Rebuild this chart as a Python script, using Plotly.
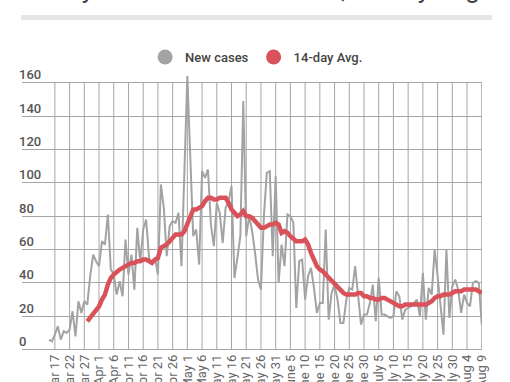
import pandas as pd
import plotly.graph_objects as go

# Daily new cases, starting Mar 15
new_cases = [6, 5, 9, 14, 6, 11, 10, 12, 23, 8, 29, 22,
             29, 27, 44, 57, 53, 50, 65, 63, 81, 48,
             45, 33, 41, 32, 66, 45, 57, 36, 73, 52,
             72, 78, 55, 52, 55, 45, 99, 85, 56, 74,
             77, 76, 82, 50, 107, 164, 115, 68, 72, 51,
             107, 103, 108, 75, 62, 88, 82, 64, 85, 89,
             98, 43, 55, 68, 149, 68, 80, 71, 58, 42,
             36, 80, 106, 107, 56, 104, 40, 63, 50, 81,
             80, 76, 25, 53, 54, 30, 44, 49, 37, 22,
             28, 28, 72, 18, 34, 39, 30, 16, 16, 30,
             37, 36, 50, 32, 15, 21, 21, 28, 39, 17,
             43, 21, 21, 20, 19, 20, 35, 32, 18, 24,
             25, 26, 28, 30, 20, 46, 18, 37, 33, 60,
             44, 26, 9, 60, 19, 38, 42, 36, 22, 33,
             28, 26, 40, 41, 40, 15]
cases_start = "2020-03-15"

# 14-day average, starting Mar 28
avg14 = [17, 19, 21, 24, 26, 30, 33, 39, 43, 45,
         47, 48, 49, 50, 51, 52, 52, 53, 53, 54,
         54, 53, 52, 54, 55, 61, 62, 63, 65, 67,
         69, 69, 69, 71, 76, 80, 84, 84, 85, 86,
         89, 91, 91, 90, 90, 91, 91, 91, 88, 84,
         82, 80, 81, 83, 80, 80, 79, 77, 75, 73,
         73, 74, 75, 75, 76, 75, 70, 71, 70, 68,
         66, 65, 65, 65, 66, 63, 58, 53, 50, 48,
         47, 45, 43, 41, 40, 38, 36, 34, 33, 33,
         33, 33, 34, 34, 32, 32, 31, 31, 30, 30,
         31, 31, 30, 29, 28, 27, 26, 26, 27, 27,
         27, 27, 27, 27, 27, 27, 28, 29, 31, 32,
         32, 33, 33, 33, 34, 35, 35, 35, 36, 36,
         36, 36, 36, 35, 34]
avg_start = "2020-03-28"

tick_labels = ["Mar 17", "Mar 22", "Mar 27", "Apr 1", "Apr 6", "Apr 11", "Apr 16",
               "Apr 21", "Apr 26", "May 1", "May 6", "May 11", "May 16", "May 21",
               "May 26", "May 31", "June 5", "June 10", "June 15", "June 20",
               "June 25", "June 30", "July 5", "July 10", "July 15", "July 20",
               "July 25", "July 30", "Aug 4", "Aug 9"]
tick_start = "2020-03-17"
y_ticks = [0, 20, 40, 60, 80, 100, 120, 140, 160]

case_dates = pd.date_range(cases_start, periods=len(new_cases), freq="D")
avg_dates = pd.date_range(avg_start, periods=len(avg14), freq="D")
tick_dates = pd.date_range(tick_start, periods=len(tick_labels), freq="5D")

GRAY = "#a3a3a3"
RED = "#d9525a"

fig = go.Figure()
fig.add_trace(go.Scatter(x=case_dates, y=new_cases, mode="lines",
                         line=dict(color=GRAY, width=2), showlegend=False))
fig.add_trace(go.Scatter(x=avg_dates, y=avg14, mode="lines",
                         line=dict(color=RED, width=4.5), showlegend=False))
# legend entries (circle markers)
fig.add_trace(go.Scatter(x=[None], y=[None], mode="markers", name="New cases",
                         marker=dict(color=GRAY, size=15, symbol="circle")))
fig.add_trace(go.Scatter(x=[None], y=[None], mode="markers", name="14-day Avg.",
                         marker=dict(color=RED, size=15, symbol="circle")))

shapes = []
for d in tick_dates:
    shapes.append(dict(type="line", xref="x", yref="y", x0=d, x1=d, y0=0, y1=max(y_ticks),
                       line=dict(color="#a6a6a6", width=1), layer="below"))
shapes.append(dict(type="rect", xref="paper", yref="paper", x0=-0.002, x1=1.0217,
                   y0=1.1419, y1=1.1588, fillcolor="#e6e6e6", line=dict(width=0)))

fig.update_layout(
    width=510, height=382,
    margin=dict(l=22, r=28, t=62, b=24, autoexpand=False),
    paper_bgcolor="white", plot_bgcolor="white",
    font=dict(family="Roboto", color="#555555"),
    shapes=shapes,
    legend=dict(orientation="h", x=0.51, xanchor="center", y=1.0169, yanchor="middle",
                font=dict(size=13, color="#444444", family="Roboto", weight=500),
                itemwidth=30, tracegroupgap=0, bgcolor="rgba(0,0,0,0)"),
    annotations=[dict(text="Daily new COVID-19 cases, 14-day Avg", xref="paper", yref="paper",
                      x=1.0, xanchor="right", y=1.1875, yanchor="bottom", showarrow=False,
                      font=dict(size=26, color="#444444", family="Roboto"))],
)
fig.update_xaxes(
    type="date",
    range=[pd.Timestamp("2020-03-05 20:00"), pd.Timestamp("2020-08-09 02:00")],
    tickmode="array", tickvals=tick_dates, ticktext=tick_labels,
    tickangle=-90, ticklabelstandoff=-7,
    tickfont=dict(size=13, color="#666666", family="Roboto"),
    showgrid=False, zeroline=False, showline=False, ticks="",
    automargin=False,
)
fig.update_yaxes(
    range=[-5, 172.4], tickmode="array", tickvals=y_ticks,
    ticklabelposition="inside", ticklabelshift=-8, ticklabelstandoff=-6,
    tickfont=dict(size=13, color="#555555", family="Roboto", weight=500),
    showgrid=True, gridcolor="#a6a6a6", gridwidth=1,
    zeroline=False, showline=False, ticks="", automargin=False,
)
fig.write_html("out.html", config={"displayModeBar": False},
               post_script="document.body.style.margin='0px';document.body.style.overflow='hidden';")
